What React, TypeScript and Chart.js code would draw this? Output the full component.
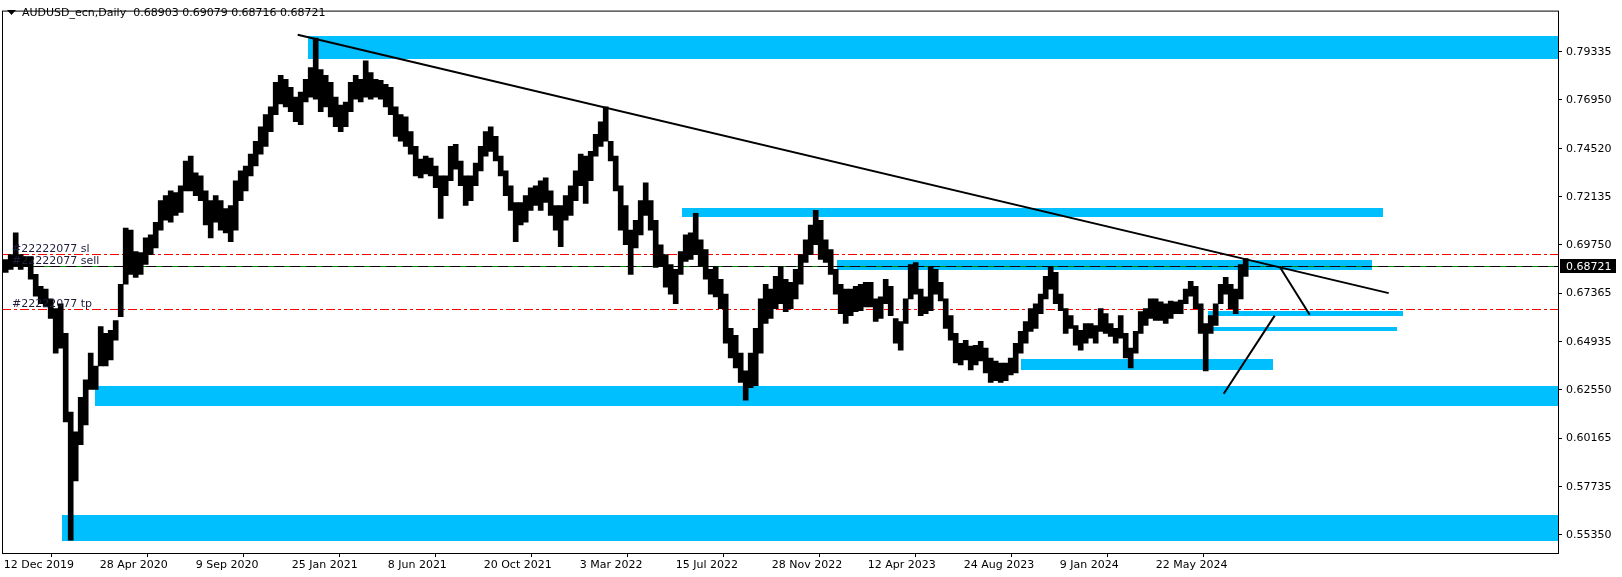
import React, { useEffect, useRef } from 'react';
import { Chart, registerables } from 'chart.js';

Chart.register(...registerables);

// ---------- data ----------
const symbolTitle = 'AUDUSD_ecn,Daily';
const lastOhlc = ['0.68903', '0.69079', '0.68716', '0.68721'];
const lastPrice = 0.68721;

// each band groups 5 daily bars; values are the band's high / low
const barsPerBand = 5;
const bandHigh = [
  0.6903, 0.6927, 0.7035, 0.6927, 0.6917, 0.6917, 0.6829, 0.6770, 0.6756, 0.6707,
  0.6659, 0.6683, 0.6536, 0.6145, 0.6047, 0.6218, 0.6306, 0.6438, 0.6374, 0.6570,
  0.6536, 0.6551, 0.6600, 0.6780, 0.7059, 0.7049, 0.6942, 0.6937, 0.7010, 0.7025,
  0.7088, 0.7195, 0.7220, 0.7244, 0.7235, 0.7269, 0.7392, 0.7416, 0.7333, 0.7318,
  0.7244, 0.7195, 0.7220, 0.7195, 0.7156, 0.7171, 0.7294, 0.7343, 0.7367, 0.7426,
  0.7490, 0.7562, 0.7622, 0.7661, 0.7783, 0.7817, 0.7797, 0.7758, 0.7709, 0.7734,
  0.7797, 0.7856, 0.8002, 0.7846, 0.7817, 0.7783, 0.7709, 0.7670, 0.7685, 0.7783,
  0.7817, 0.7797, 0.7890, 0.7831, 0.7797, 0.7792, 0.7773, 0.7758, 0.7661, 0.7622,
  0.7611, 0.7538, 0.7465, 0.7401, 0.7416, 0.7406, 0.7367, 0.7318, 0.7318, 0.7465,
  0.7475, 0.7392, 0.7318, 0.7318, 0.7382, 0.7465, 0.7538, 0.7562, 0.7514, 0.7416,
  0.7343, 0.7269, 0.7186, 0.7186, 0.7220, 0.7259, 0.7269, 0.7294, 0.7308, 0.7244,
  0.7171, 0.7171, 0.7220, 0.7269, 0.7343, 0.7426, 0.7416, 0.7440, 0.7524, 0.7587,
  0.7661, 0.7490, 0.7416, 0.7269, 0.7171, 0.7049, 0.7098, 0.7195, 0.7284, 0.7195,
  0.7098, 0.6976, 0.6927, 0.6878, 0.6854, 0.6942, 0.7025, 0.7035, 0.7132, 0.7000,
  0.6952, 0.6854, 0.6868, 0.6805, 0.6731, 0.6561, 0.6526, 0.6438, 0.6350, 0.6438,
  0.6561, 0.6707, 0.6780, 0.6756, 0.6819, 0.6868, 0.6805, 0.6790, 0.6854, 0.6927,
  0.7000, 0.7074, 0.7147, 0.7098, 0.7000, 0.6952, 0.6854, 0.6780, 0.6756, 0.6756,
  0.6770, 0.6780, 0.6790, 0.6790, 0.6707, 0.6717, 0.6805, 0.6770, 0.6610, 0.6595,
  0.6707, 0.6878, 0.6888, 0.6756, 0.6717, 0.6868, 0.6854, 0.6790, 0.6707, 0.6624,
  0.6536, 0.6487, 0.6502, 0.6473, 0.6477, 0.6497, 0.6463, 0.6414, 0.6399, 0.6389,
  0.6389, 0.6414, 0.6487, 0.6546, 0.6595, 0.6659, 0.6683, 0.6731, 0.6819, 0.6868,
  0.6839, 0.6731, 0.6659, 0.6624, 0.6575, 0.6551, 0.6585, 0.6585, 0.6575, 0.6659,
  0.6634, 0.6585, 0.6561, 0.6624, 0.6536, 0.6463, 0.6546, 0.6644, 0.6659, 0.6707,
  0.6707, 0.6693, 0.6683, 0.6697, 0.6693, 0.6702, 0.6756, 0.6795, 0.6770, 0.6683,
  0.6585, 0.6624, 0.6683, 0.6780, 0.6814, 0.6780, 0.6756, 0.6878, 0.6908,
];
const bandLow = [
  0.6839, 0.6854, 0.6868, 0.6854, 0.6868, 0.6805, 0.6721, 0.6683, 0.6668, 0.6610,
  0.6438, 0.6463, 0.6096, 0.5509, 0.5803, 0.5983, 0.6081, 0.6258, 0.6258, 0.6374,
  0.6374, 0.6404, 0.6502, 0.6619, 0.6780, 0.6829, 0.6814, 0.6829, 0.6878, 0.6927,
  0.6961, 0.7049, 0.7098, 0.7088, 0.7122, 0.7137, 0.7244, 0.7244, 0.7220, 0.7195,
  0.7074, 0.7010, 0.7088, 0.7049, 0.7035, 0.6991, 0.7049, 0.7195, 0.7244, 0.7318,
  0.7367, 0.7426, 0.7465, 0.7538, 0.7622, 0.7675, 0.7661, 0.7637, 0.7587, 0.7572,
  0.7685, 0.7709, 0.7699, 0.7637, 0.7661, 0.7611, 0.7562, 0.7538, 0.7562, 0.7637,
  0.7699, 0.7685, 0.7709, 0.7699, 0.7709, 0.7699, 0.7661, 0.7622, 0.7514, 0.7490,
  0.7465, 0.7426, 0.7318, 0.7308, 0.7328, 0.7318, 0.7259, 0.7107, 0.7220, 0.7294,
  0.7352, 0.7269, 0.7171, 0.7195, 0.7269, 0.7343, 0.7416, 0.7440, 0.7392, 0.7318,
  0.7220, 0.7147, 0.6991, 0.7074, 0.7088, 0.7147, 0.7171, 0.7147, 0.7186, 0.7122,
  0.7049, 0.6966, 0.7098, 0.7122, 0.7195, 0.7269, 0.7181, 0.7294, 0.7416, 0.7465,
  0.7490, 0.7392, 0.7244, 0.7049, 0.6976, 0.6829, 0.6961, 0.7025, 0.7122, 0.7049,
  0.6864, 0.6868, 0.6766, 0.6731, 0.6683, 0.6829, 0.6893, 0.6903, 0.6927, 0.6868,
  0.6805, 0.6731, 0.6717, 0.6659, 0.6487, 0.6414, 0.6365, 0.6292, 0.6204, 0.6267,
  0.6277, 0.6438, 0.6585, 0.6610, 0.6659, 0.6683, 0.6644, 0.6659, 0.6707, 0.6780,
  0.6888, 0.6927, 0.6976, 0.6903, 0.6888, 0.6829, 0.6731, 0.6634, 0.6585, 0.6624,
  0.6644, 0.6649, 0.6668, 0.6668, 0.6595, 0.6610, 0.6683, 0.6624, 0.6487, 0.6453,
  0.6585, 0.6707, 0.6731, 0.6624, 0.6634, 0.6649, 0.6731, 0.6697, 0.6561, 0.6502,
  0.6389, 0.6379, 0.6404, 0.6355, 0.6379, 0.6399, 0.6340, 0.6292, 0.6301, 0.6292,
  0.6301, 0.6330, 0.6340, 0.6438, 0.6487, 0.6546, 0.6561, 0.6634, 0.6707, 0.6756,
  0.6683, 0.6649, 0.6536, 0.6561, 0.6477, 0.6453, 0.6487, 0.6512, 0.6487, 0.6546,
  0.6536, 0.6521, 0.6487, 0.6512, 0.6414, 0.6365, 0.6438, 0.6536, 0.6575, 0.6610,
  0.6600, 0.6600, 0.6585, 0.6610, 0.6634, 0.6634, 0.6683, 0.6721, 0.6659, 0.6536,
  0.6350, 0.6536, 0.6575, 0.6683, 0.6731, 0.6659, 0.6634, 0.6707, 0.6819,
];

// time axis: bar index of each date label
const dateTickBars = [0, 96, 192, 288, 384, 480, 576, 672, 768, 864, 960, 1056, 1152];
const dateTickLabels = [
  '12 Dec 2019', '28 Apr 2020', '9 Sep 2020', '25 Jan 2021', '8 Jun 2021', '20 Oct 2021',
  '3 Mar 2022', '15 Jul 2022', '28 Nov 2022', '12 Apr 2023', '24 Aug 2023', '9 Jan 2024', '22 May 2024',
];
const priceTicks = [0.79335, 0.7695, 0.7452, 0.72135, 0.6975, 0.67365, 0.64935, 0.6255, 0.60165, 0.57735, 0.5535];

// supply / demand zones (price top, price bottom, bar from, bar to; null = to the right edge)
const zoneTop = [0.8015, 0.7157, 0.6898, 0.6645, 0.6570, 0.6409, 0.6277, 0.5632];
const zoneBottom = [0.7896, 0.7114, 0.6850, 0.6624, 0.6547, 0.6355, 0.6176, 0.5506];
const zoneFrom = [304, 678, 833, 1204, 1208, 1017, 91, 58];
const zoneTo: (number | null)[] = [null, 1379, 1368, 1399, 1393, 1269, null, null];

// trend lines (bar, price) -> (bar, price)
const trendFromBar = [294, 1276, 1220];
const trendFromPrice = [0.8019, 0.6867, 0.6236];
const trendToBar = [1385, 1306, 1271];
const trendToPrice = [0.6736, 0.6629, 0.6624];

// order lines
const orderNames = ['#22222077 sl', '#22222077 sell', '#22222077 tp'];
const orderPrices = [0.6930, 0.68721, 0.6657];
const orderKinds = ['stop', 'open', 'take'];

// ---------- chart ----------
const FONT = "'DejaVu Sans', Verdana, sans-serif";

const overlayPlugin = {
  id: 'mtOverlay',
  beforeDatasetsDraw(chart: any) {
    const { ctx, chartArea: a, scales } = chart;
    const xs = scales.x;
    const ys = scales.y;
    ctx.save();
    ctx.beginPath();
    ctx.rect(a.left, a.top, a.right - a.left, a.bottom - a.top);
    ctx.clip();
    ctx.fillStyle = '#00BFFF';
    for (let i = 0; i < zoneTop.length; i++) {
      const x1 = Math.round(xs.getPixelForValue(zoneFrom[i]));
      const x2 = zoneTo[i] == null ? a.right : Math.round(xs.getPixelForValue(zoneTo[i] as number));
      const y1 = Math.round(ys.getPixelForValue(zoneTop[i]));
      const y2 = Math.round(ys.getPixelForValue(zoneBottom[i]));
      ctx.fillRect(x1, y1, x2 - x1, y2 - y1);
    }
    ctx.lineWidth = 1;
    for (let i = 0; i < orderPrices.length; i++) {
      const py = Math.round(ys.getPixelForValue(orderPrices[i])) + 0.5;
      if (orderKinds[i] === 'open') {
        ctx.setLineDash([]);
        ctx.strokeStyle = '#008000';
        ctx.beginPath();
        ctx.moveTo(a.left, py);
        ctx.lineTo(a.right, py);
        ctx.stroke();
        ctx.setLineDash([10, 6]);
        ctx.strokeStyle = '#000000';
        ctx.beginPath();
        ctx.moveTo(a.left, py);
        ctx.lineTo(a.right, py);
        ctx.stroke();
      } else {
        ctx.setLineDash([9, 3, 3, 3]);
        ctx.strokeStyle = '#FF0000';
        ctx.beginPath();
        ctx.moveTo(a.left, py);
        ctx.lineTo(a.right, py);
        ctx.stroke();
      }
    }
    ctx.restore();
  },
  afterDatasetsDraw(chart: any) {
    const { ctx, chartArea: a, scales } = chart;
    const xs = scales.x;
    const ys = scales.y;
    ctx.save();
    ctx.beginPath();
    ctx.rect(a.left, a.top, a.right - a.left, a.bottom - a.top);
    ctx.clip();
    ctx.strokeStyle = '#000';
    ctx.lineWidth = 2;
    ctx.lineCap = 'butt';
    for (let i = 0; i < trendFromBar.length; i++) {
      ctx.beginPath();
      ctx.moveTo(xs.getPixelForValue(trendFromBar[i]), ys.getPixelForValue(trendFromPrice[i]));
      ctx.lineTo(xs.getPixelForValue(trendToBar[i]), ys.getPixelForValue(trendToPrice[i]));
      ctx.stroke();
    }
    // order labels
    ctx.font = `11px ${FONT}`;
    ctx.fillStyle = '#1e1e3c';
    ctx.textAlign = 'left';
    ctx.textBaseline = 'alphabetic';
    for (let i = 0; i < orderPrices.length; i++) {
      const py = Math.round(ys.getPixelForValue(orderPrices[i]));
      ctx.fillText(orderNames[i], a.left + 10, py - 2);
    }
    ctx.restore();
  },
  afterDraw(chart: any) {
    const { ctx, chartArea: a, scales } = chart;
    const ys = scales.y;
    ctx.save();
    // frame
    ctx.strokeStyle = '#000';
    ctx.lineWidth = 1;
    ctx.setLineDash([]);
    ctx.strokeRect(a.left + 0.5, a.top + 0.5, a.right - a.left, a.bottom - a.top);
    // header
    ctx.fillStyle = '#000';
    ctx.beginPath();
    ctx.moveTo(7, 10);
    ctx.lineTo(16, 10);
    ctx.lineTo(11.5, 15);
    ctx.closePath();
    ctx.fill();
    ctx.font = `11px ${FONT}`;
    ctx.textBaseline = 'middle';
    ctx.textAlign = 'left';
    ctx.fillText(`${symbolTitle}  ${lastOhlc.join(' ')}`, 22, 13);
    // current price tag
    const py = Math.round(ys.getPixelForValue(lastPrice));
    ctx.fillStyle = '#000';
    ctx.fillRect(a.right + 2, py - 7, 56, 14);
    ctx.fillStyle = '#fff';
    ctx.fillText(lastPrice.toFixed(5), a.right + 8, py + 1);
    ctx.restore();
  },
};

export default function App() {
  const canvasRef = useRef<HTMLCanvasElement | null>(null);

  useEffect(() => {
    document.body.style.margin = '0';
    document.body.style.background = '#fff';
    const canvas = canvasRef.current;
    if (!canvas) return;
    const points = bandHigh.map((h, k) => ({ x: k * barsPerBand + 2, y: [bandLow[k], h] }));
    const tickFont = { family: FONT, size: 11 };
    const chart = new Chart(canvas, {
      type: 'bar',
      data: {
        datasets: [
          {
            label: 'AUDUSD',
            data: points as any,
            backgroundColor: '#000000',
            borderWidth: 0,
            barThickness: 5,
          } as any,
        ],
      },
      options: {
        responsive: false,
        devicePixelRatio: 1,
        animation: false,
        events: [],
        layout: { padding: { left: 2, top: 2, right: 0, bottom: 0 } },
        plugins: { legend: { display: false }, tooltip: { enabled: false }, title: { display: false } },
        scales: {
          x: {
            type: 'linear',
            min: -1.7,
            max: 1554.3,
            offset: false,
            afterBuildTicks: (s: any) => {
              s.ticks = dateTickBars.map((v) => ({ value: v }));
            },
            afterFit: (s: any) => {
              s.height = 24;
            },
            grid: { display: true, drawOnChartArea: false, drawTicks: true, tickLength: 4, color: '#000' },
            border: { display: false },
            ticks: {
              autoSkip: false,
              maxRotation: 0,
              minRotation: 0,
              align: 'start',
              padding: 2,
              color: '#000',
              font: tickFont,
              callback: (_v: any, i: number) => dateTickLabels[i],
            },
          } as any,
          y: {
            type: 'linear',
            position: 'right',
            min: 0.54455,
            max: 0.81388,
            afterBuildTicks: (s: any) => {
              s.ticks = priceTicks.map((v) => ({ value: v }));
            },
            afterFit: (s: any) => {
              s.width = 64;
            },
            grid: { display: true, drawOnChartArea: false, drawTicks: true, tickLength: 4, color: '#000' },
            border: { display: false },
            ticks: {
              padding: 4,
              color: '#000',
              font: tickFont,
              callback: (v: any) => Number(v).toFixed(5),
            },
          } as any,
        },
      },
      plugins: [overlayPlugin],
    });
    return () => chart.destroy();
  }, []);

  return (
    <div style={{ width: 1622, height: 577, background: '#fff' }}>
      <canvas ref={canvasRef} width={1622} height={577} style={{ display: 'block' }} />
    </div>
  );
}
